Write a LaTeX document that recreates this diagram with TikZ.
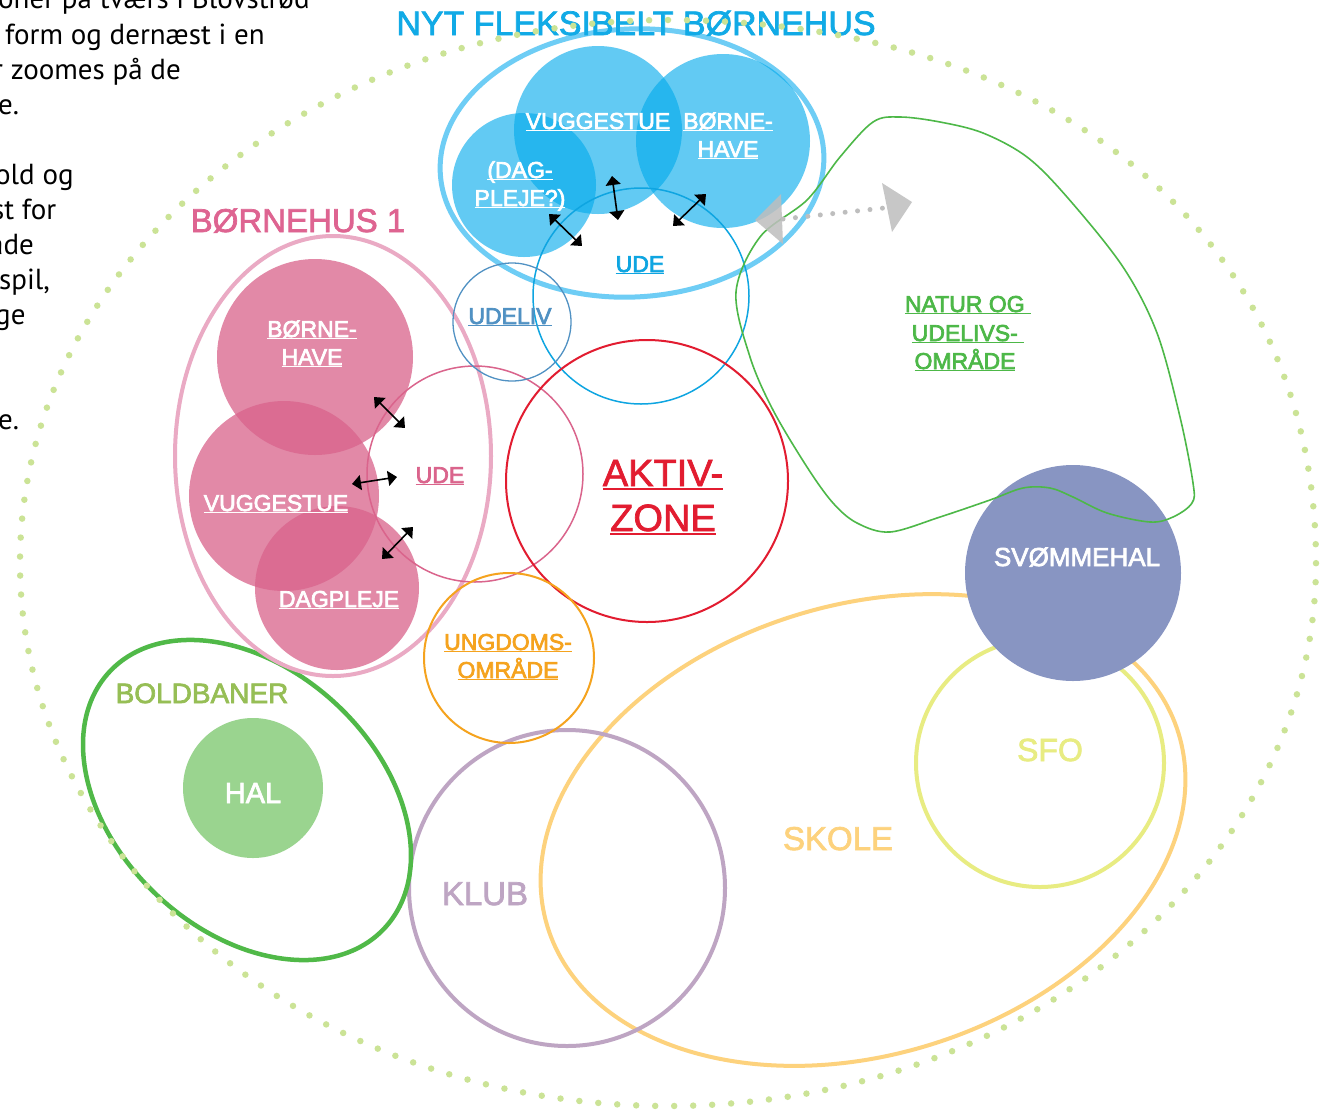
\documentclass[tikz,border=0pt]{standalone}
\usepackage{fontspec}
\setmainfont{Liberation Sans}
\newfontfamily\lblfont{Liberation Sans}
\newfontfamily\parafont{PT Sans}
\usetikzlibrary{arrows.meta}
\definecolor{dotgreen}{RGB}{203,227,150}
\definecolor{pinkbase}{RGB}{217,100,140}
\definecolor{bluebase}{RGB}{2,171,236}
\definecolor{pinkring}{RGB}{234,170,196}
\definecolor{pinkude}{RGB}{218,100,140}
\definecolor{pinktitle}{RGB}{222,100,145}
\definecolor{nytblue}{RGB}{17,170,230}
\definecolor{nytring}{RGB}{110,205,245}
\definecolor{udeblue}{RGB}{14,165,225}
\definecolor{udeliv}{RGB}{80,145,195}
\definecolor{aktiv}{RGB}{226,28,48}
\definecolor{ungdom}{RGB}{245,163,30}
\definecolor{natur}{RGB}{77,184,72}
\definecolor{svom}{RGB}{136,149,194}
\definecolor{skole}{RGB}{253,210,125}
\definecolor{sfo}{RGB}{232,236,130}
\definecolor{klub}{RGB}{190,165,195}
\definecolor{bold}{RGB}{80,185,72}
\definecolor{boldtxt}{RGB}{150,190,85}
\definecolor{hal}{RGB}{154,212,143}
\definecolor{grayarrow}{RGB}{190,190,190}
\newcommand{\myul}[1]{\setbox0\hbox{#1}\rlap{\rule[-0.1em]{\wd0}{0.06em}}\box0}
\newcommand{\thk}{\special{pdf:literal direct 2 Tr 0.7 w}}
\newcommand{\unthk}{\special{pdf:literal direct 0 Tr}}
\begin{document}
\begin{tikzpicture}[x=1pt,y=-1pt,
  lbl/.style={anchor=base,inner sep=0pt,font=\lblfont\fontsize{23}{28}\selectfont,
    execute at begin node=\thk,execute at end node=\unthk},
  big/.style={font=\lblfont\fontsize{#1}{#1}\selectfont},
  para/.style={anchor=base west,inner sep=0pt,font=\parafont\fontsize{29}{35}\selectfont,text=black},
  pinkfill/.style={fill=pinkbase,fill opacity=0.76},
  bluefill/.style={fill=bluebase,fill opacity=0.62},
  dblarrow/.style={line width=1.6pt,{Triangle[length=9pt,width=15pt]}-{Triangle[length=9pt,width=15pt]}},
  grayhead/.style={fill=grayarrow,fill opacity=0.85},
  graydots/.style={draw=grayarrow,line width=5pt,line cap=round,dash pattern=on 0pt off 12.5pt}]
\useasboundingbox (0,0) rectangle (1338,1112);
\clip (0,0) rectangle (1338,1112);
\fill[white] (0,0) rectangle (1338,1112);

% paragraph fragments at left
\node[para] (p1) at (-2,8) {oner på tværs i Blovstrød};
\node[para] (p2) at (5,44) {form og dernæst i en};
\node[para] (p3) at (-7,79) {r zoomes på de};
\node[para] (p4) at (-2,114) {e.};
\node[para] (p5) at (-5,184) {old og};
\node[para] (p6) at (-8,219) {st for};
\node[para] (p7) at (-11,254) {åde};
\node[para] (p8) at (-1,289) {spil,};
\node[para] (p9) at (-5,324) {ge};
\node[para] (p10) at (-2,429) {e.};

% school area
\draw[skole,line width=4pt,rotate around={17:(863,830)}] (863,830) ellipse[x radius=330pt,y radius=225pt];
\draw[klub,line width=4pt] (567,888) circle[radius=158pt];
\draw[sfo,line width=4pt] (1040,763) circle[radius=124pt];
\draw[bold,line width=4.5pt,rotate around={-43:(247,800)}] (247,800) ellipse[x radius=188pt,y radius=131pt];
\fill[hal] (253,788) circle[radius=70pt];

% Boernehus 1
\fill[pinkfill] (315,357) circle[radius=98pt];
\fill[pinkfill] (284,496) circle[radius=95pt];
\fill[pinkfill] (337,588) circle[radius=82pt];
\draw[pinkring,line width=4pt] (333,456) ellipse[x radius=158pt,y radius=220pt];
\draw[pinkude,line width=1.5pt] (475,474) circle[radius=108pt];

% Nyt fleksibelt boernehus
\draw[nytring,line width=5pt,rotate around={3:(632,163)}] (632,163) ellipse[x radius=192pt,y radius=134pt];
\fill[bluefill] (598,130) circle[radius=84pt];
\fill[bluefill] (723,141) circle[radius=87pt];
\fill[bluefill] (524,185) circle[radius=72pt];
\draw[udeblue,line width=1.5pt] (641,296) circle[radius=108pt];
\draw[udeliv,line width=1.3pt] (512,322) circle[radius=59pt];

\draw[aktiv,line width=2pt] (647,481) circle[radius=141pt];
\draw[ungdom,line width=2pt] (509,658) circle[radius=85pt];

\fill[svom] (1073,573) circle[radius=108pt];

% nature blob
\draw[natur,line width=1.6pt] plot[smooth cycle,tension=0.55] coordinates {(736,292) (760,237) (807,200) (840,157) (873,122) (900,117) (940,122) (983,133) (1027,157) (1067,197) (1123,267) (1157,333) (1180,417) (1193,483) (1192,503) (1173,517) (1150,522) (1107,513) (1073,497) (1050,488) (1023,488) (990,500) (940,517) (890,532) (857,523) (833,503) (807,467) (773,410) (750,357)};

% gray dotted arrow
\coordinate (g1) at (783,219);
\coordinate (g2) at (884,208);
\draw[graydots] (g1) -- (g2);
\fill[grayhead] (755,220) -- (781,194) -- (783,244) -- cycle;
\fill[grayhead] (912,202) -- (882,183) -- (892,232) -- cycle;

% black double arrows
\coordinate (a1s) at (374,397); \coordinate (a1e) at (405,428);
\coordinate (a2s) at (352,484); \coordinate (a2e) at (397,477);
\coordinate (a3s) at (382,559); \coordinate (a3e) at (413,527);
\coordinate (b1s) at (549,214); \coordinate (b1e) at (582,246);
\coordinate (b2s) at (612,176); \coordinate (b2e) at (618,220);
\coordinate (b3s) at (673,226); \coordinate (b3e) at (706,194);
\draw[dblarrow] (a1s) -- (a1e);
\draw[dblarrow] (a2s) -- (a2e);
\draw[dblarrow] (a3s) -- (a3e);
\draw[dblarrow] (b1s) -- (b1e);
\draw[dblarrow] (b2s) -- (b2e);
\draw[dblarrow] (b3s) -- (b3e);

% labels pink
\node[lbl,text=white] (l1) at (312,337) {\myul{BØRNE-}};
\node[lbl,text=white] (l2) at (312,365) {\myul{HAVE}};
\node[lbl,text=white] (l3) at (276,511) {\myul{VUGGESTUE}};
\node[lbl,text=white] (l4) at (339,607) {\myul{DAGPLEJE}};
\node[lbl,text=pinkude] (l5) at (440,483) {\myul{UDE}};
% labels blue
\node[lbl,text=white] (l6) at (598,129) {\myul{VUGGESTUE}};
\node[lbl,text=white] (l7) at (728,129) {\myul{BØRNE-}};
\node[lbl,text=white] (l8) at (728,157) {\myul{HAVE}};
\node[lbl,text=white] (l9) at (520,178) {\myul{(DAG-}};
\node[lbl,text=white] (l10) at (520,206) {\myul{PLEJE?)}};
\node[lbl,text=udeblue] (l11) at (640,272) {\myul{UDE}};
\node[lbl,text=udeliv] (l12) at (510,324) {\myul{UDELIV}};
% others
\node[lbl,text=aktiv,big=38] (l13) at (663,486) {\myul{AKTIV-}};
\node[lbl,text=aktiv,big=38] (l14) at (663,531) {\myul{ZONE}};
\node[lbl,text=ungdom] (l15) at (508,650) {\myul{UNGDOMS-}};
\node[lbl,text=ungdom] (l16) at (508,678) {\myul{OMRÅDE}};
\node[lbl,text=natur] (l17) at (968,312) {\myul{NATUR OG }};
\node[lbl,text=natur] (l18) at (968,341) {\myul{UDELIVS- }};
\node[lbl,text=natur] (l19) at (965,369) {\myul{OMRÅDE}};
\node[lbl,text=white,big=26] (l20) at (1077,566) {SVØMMEHAL};
\node[lbl,text=sfo,big=32] (l21) at (1050,761) {SFO};
\node[lbl,text=skole,big=33] (l22) at (838,850) {SKOLE};
\node[lbl,text=klub,big=33] (l23) at (485,905) {KLUB};
\node[lbl,text=boldtxt,big=28] (l24) at (202,703) {BOLDBANER};
\node[lbl,text=white,big=29] (l25) at (253,803) {HAL};

% titles
\node[lbl,text=pinktitle,big=33] (t1) at (298,232) {BØRNEHUS 1};
\node[lbl,text=nytblue,big=34] (t2) at (636,35) {NYT FLEKSIBELT BØRNEHUS};

% dotted outer boundary
\draw[dotgreen,line width=6.5pt,line cap=round,dash pattern=on 0pt off 19pt]
  (668,20) .. controls (1056.8,20) and (1316,237.2) .. (1316,563)
  .. controls (1316,862.9) and (1025.9,1106) .. (668,1106)
  .. controls (310.1,1106) and (20,862.9) .. (20,563)
  .. controls (20,263.1) and (310.1,20) .. (668,20);
\end{tikzpicture}
\end{document}
